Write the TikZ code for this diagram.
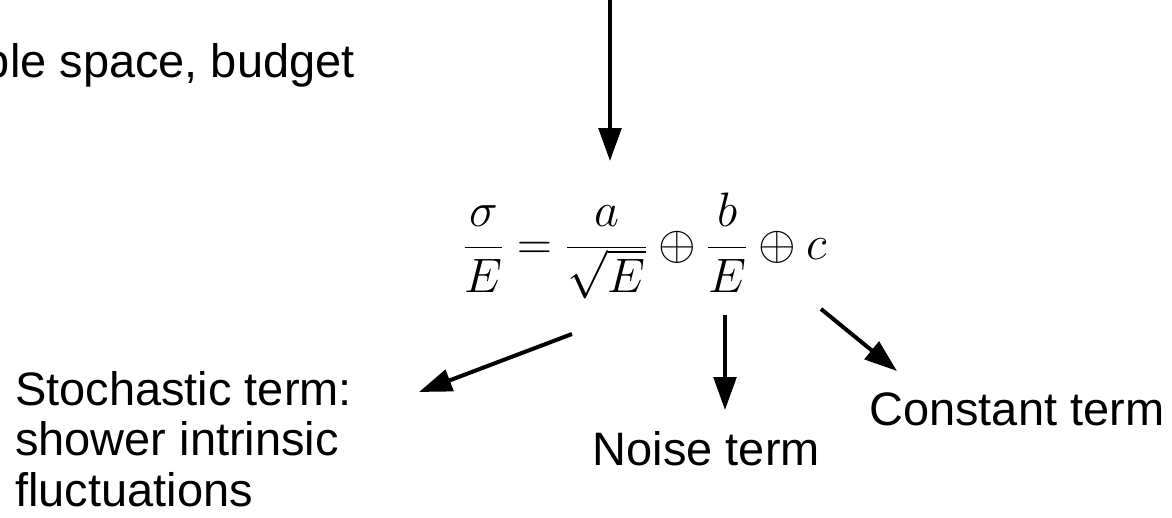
\RequirePackage{fix-cm}
\documentclass[tikz,border=0pt]{standalone}
\usepackage{fontspec}
\setmainfont{Liberation Sans}
\usetikzlibrary{arrows.meta}
\tikzset{
  termarrow/.style={line width=0.1cm,-{Triangle[length=0.82cm,width=0.56cm]}},
  slidetext/.style={inner sep=0pt,font=\fontsize{33.4}{35.6}\selectfont},
}
\begin{document}
\begin{tikzpicture}[x=1cm,y=1cm]
\useasboundingbox (0,0) rectangle (29.3,12.925);
\clip (0,0) rectangle (29.3,12.925);

\node[slidetext,anchor=base east] (limits) at (8.875,10.975) {available space, budget};

\coordinate (topstart) at (15.25,12.925);
\coordinate (topend) at (15.25,8.9);
\draw[termarrow] (topstart) -- (topend);

\node[inner sep=0pt,anchor=base,font=\fontsize{34.4}{40}\selectfont] (formula) at (16.125,6.448)
  {$\displaystyle \frac{\sigma}{E}=\frac{a}{\sqrt{E}}\oplus\frac{b}{E}\oplus c$};

\coordinate (stochstart) at (14.3,4.575);
\coordinate (stochend) at (10.475,3.125);
\draw[termarrow] (stochstart) -- (stochend);

\coordinate (noisestart) at (18.125,5.05);
\coordinate (noiseend) at (18.125,2.675);
\draw[termarrow] (noisestart) -- (noiseend);

\coordinate (conststart) at (20.525,5.2);
\coordinate (constend) at (22.425,3.65);
\draw[termarrow] (conststart) -- (constend);

\node[slidetext,anchor=base west,align=left] (stochastic) at (0.375,0.275)
  {Stochastic term:\\shower intrinsic\\fluctuations};
\node[slidetext,anchor=base] (noise) at (17.66,1.3) {Noise term};
\node[slidetext,anchor=base west] (constant) at (21.725,2.3) {Constant term};
\end{tikzpicture}
\end{document}
